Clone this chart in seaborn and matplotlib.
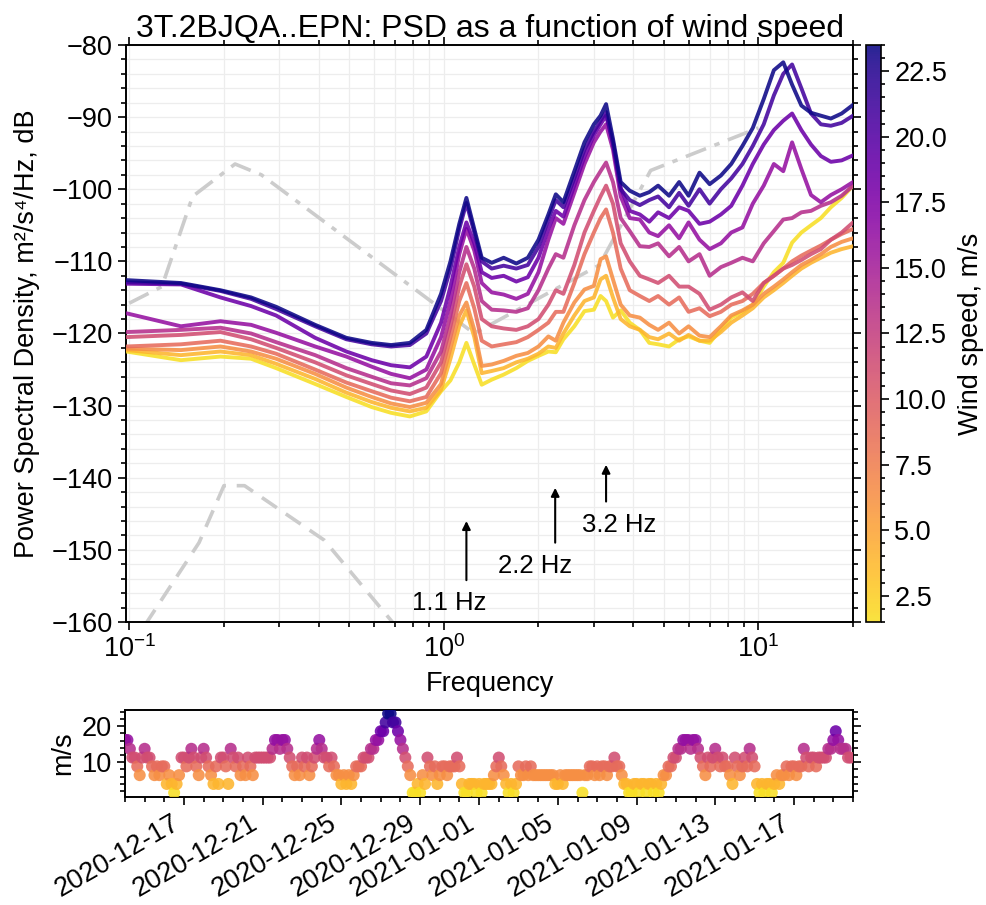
import numpy as np
import pandas as pd
import matplotlib
matplotlib.use("Agg")
import matplotlib.pyplot as plt
import matplotlib.dates as mdates
from matplotlib.ticker import MultipleLocator, LogLocator, NullFormatter
from matplotlib.colors import Normalize, ListedColormap
from matplotlib.cm import ScalarMappable
import seaborn as sns

# ---------------- data ----------------
FREQS = [0.098, 0.146, 0.195, 0.244, 0.293, 0.39, 0.49, 0.59, 0.68, 0.78,
         0.88, 0.98, 1.05, 1.12, 1.18, 1.25, 1.32, 1.42, 1.55, 1.70,
         1.85, 2.0, 2.15, 2.27, 2.40, 2.6, 2.8, 3.0, 3.15, 3.28,
         3.45, 3.65, 3.9, 4.2, 4.5, 4.8, 5.2, 5.6, 6.0, 6.5,
         7.0, 7.6, 8.2, 8.9, 9.6, 10.4, 11.2, 12.0, 12.8, 13.7,
         14.7, 15.8, 17.0, 18.4, 20.0]

WIND_LEVELS = [1.5, 3.94, 6.39, 8.83, 11.28, 13.72, 16.17, 18.61, 21.06, 23.5]

PSD_L0 = [-122.5, -123.7, -123.2, -123.5, -124.8, -127.0, -128.8, -130.2, -131.0, -131.5,
          -130.8, -128.0, -126.5, -124.0, -121.3, -124.3, -127.1, -126.4, -125.7, -124.8,
          -123.8, -123.1, -122.5, -122.6, -120.8, -119.0, -116.9, -116.7, -114.8, -115.5,
          -117.8, -116.8, -118.5, -119.5, -121.3, -121.5, -121.8, -120.8, -120.4, -121.0,
          -121.3, -119.4, -117.8, -117.0, -116.0, -113.5, -111.5, -110.2, -107.4, -106.0,
          -105.0, -104.0, -102.5, -101.2, -99.5]
PSD_L1 = [-122.3, -123.0, -122.5, -123.0, -124.2, -126.3, -128.2, -129.5, -130.3, -130.8,
          -130.3, -127.8, -123.5, -119.0, -116.8, -120.5, -125.5, -125.2, -124.8, -124.0,
          -123.5, -122.8, -121.8, -122.0, -120.0, -117.5, -115.5, -115.0, -112.5, -112.0,
          -115.0, -118.0, -119.0, -119.5, -120.5, -120.8, -120.0, -121.0, -120.2, -121.0,
          -121.0, -119.8, -118.5, -117.5, -116.5, -115.0, -114.0, -113.0, -112.0, -111.0,
          -110.2, -109.5, -108.8, -108.3, -107.9]
PSD_L2 = [-122.1, -122.3, -121.8, -122.5, -123.5, -125.6, -127.5, -128.8, -129.7, -130.2,
          -129.6, -127.0, -122.0, -117.5, -115.7, -119.5, -124.5, -124.3, -123.8, -123.1,
          -122.7, -121.8, -120.4, -121.0, -118.5, -115.7, -113.9, -113.4, -109.7, -109.3,
          -112.5, -116.0, -117.5, -117.8, -118.8, -119.5, -118.5, -120.0, -119.0, -120.3,
          -120.5, -119.0, -117.5, -116.8, -116.0, -114.5, -113.5, -112.5, -111.5, -110.5,
          -109.8, -109.0, -108.0, -107.3, -106.8]
PSD_L3 = [-121.8, -121.5, -121.0, -121.8, -122.8, -125.0, -126.8, -128.0, -128.9, -129.4,
          -128.8, -125.5, -120.5, -115.5, -113.0, -116.5, -121.0, -121.8, -121.5, -121.2,
          -120.5, -119.5, -118.5, -117.0, -117.0, -113.0, -109.0, -106.0, -104.0, -102.8,
          -106.0, -111.0, -114.0, -114.8, -115.5, -114.8, -116.0, -115.0, -117.0, -116.5,
          -117.6, -117.0, -116.0, -115.5, -114.5, -113.0, -112.0, -111.0, -110.0, -109.2,
          -108.5, -107.8, -107.0, -106.2, -105.5]
PSD_L4 = [-120.5, -120.2, -119.8, -120.8, -122.0, -124.0, -125.8, -127.0, -127.9, -128.4,
          -127.5, -124.0, -119.0, -113.5, -110.4, -113.5, -118.0, -119.0, -119.3, -119.5,
          -119.0, -118.0, -116.0, -114.0, -114.5, -110.5, -106.0, -103.0, -101.0, -99.5,
          -102.0, -107.5, -110.0, -112.0, -112.5, -113.0, -112.0, -113.5, -113.5, -114.5,
          -116.7, -116.0, -115.0, -114.3, -115.5, -113.0, -112.0, -111.0, -110.5, -109.8,
          -109.0, -108.3, -107.0, -106.0, -104.6]
PSD_L5 = [-119.8, -119.5, -119.2, -120.0, -121.2, -123.0, -124.8, -126.0, -126.9, -127.2,
          -126.2, -122.5, -117.5, -111.5, -108.0, -111.0, -115.5, -116.7, -116.8, -117.0,
          -116.5, -114.0, -111.0, -109.0, -109.5, -105.0, -101.5, -99.0, -97.5, -96.3,
          -99.0, -104.0, -105.8, -107.9, -108.0, -107.5, -109.3, -108.0, -110.0, -109.0,
          -112.0, -110.8, -110.2, -109.5, -110.0, -107.5, -105.8, -104.2, -104.0, -103.2,
          -103.0, -102.3, -101.8, -100.9, -99.5]
PSD_L6 = [-117.2, -119.0, -118.3, -118.8, -119.9, -121.8, -123.2, -124.6, -125.6, -126.2,
          -125.0, -120.5, -115.5, -109.0, -105.5, -108.5, -113.0, -114.3, -114.6, -115.2,
          -114.5, -111.5, -107.0, -104.0, -104.8, -100.5, -96.5, -93.5, -92.0, -91.0,
          -94.5, -101.0, -104.0, -104.2, -106.0, -106.5, -105.0, -106.8, -104.6, -107.0,
          -108.3, -107.5, -106.0, -105.3, -102.0, -99.5, -96.5, -97.5, -93.5, -97.2,
          -100.8, -101.8, -100.8, -100.0, -99.0]
PSD_L7 = [-113.1, -113.2, -115.0, -116.2, -117.5, -120.6, -122.5, -123.7, -124.4, -124.7,
          -123.2, -118.5, -113.5, -108.0, -104.6, -107.5, -111.5, -112.3, -112.0, -112.8,
          -112.2, -109.5, -105.5, -103.0, -103.8, -99.5, -95.5, -92.5, -91.0, -89.8,
          -93.5, -99.8, -103.0, -103.5, -104.5, -103.2, -104.0, -102.5, -103.0, -104.8,
          -104.5, -103.5, -102.3, -99.5, -96.5, -93.8, -91.8, -90.5, -89.5, -91.8,
          -93.8, -95.4, -96.2, -96.0, -95.3]
PSD_L8 = [-112.9, -113.1, -114.1, -115.2, -116.6, -119.0, -120.8, -121.5, -121.8, -121.6,
          -120.0, -115.5, -111.0, -105.5, -101.9, -106.0, -110.0, -111.0, -110.6, -111.0,
          -110.5, -108.0, -104.2, -101.5, -102.5, -98.5, -94.5, -92.0, -90.5, -89.3,
          -93.8, -100.0, -101.5, -102.2, -101.5, -101.0, -102.5, -100.5, -102.3, -100.0,
          -102.0, -100.0, -98.5, -96.5, -94.0, -91.0, -87.0, -84.0, -82.7, -86.0,
          -89.5, -91.0, -91.2, -90.8, -89.8]
PSD_L9 = [-112.6, -113.0, -114.0, -115.0, -116.3, -118.8, -120.6, -121.3, -121.6, -121.3,
          -119.5, -114.5, -110.0, -104.8, -101.2, -105.5, -109.5, -110.2, -109.5, -110.3,
          -109.5, -107.0, -103.5, -100.7, -101.8, -97.5, -93.5, -91.0, -89.8, -88.2,
          -93.0, -99.0, -100.2, -100.9, -100.4, -99.5, -100.9, -99.0, -100.9, -97.7,
          -99.3, -98.1, -96.5, -94.0, -91.5, -87.5, -83.5, -82.4, -85.5, -88.4,
          -89.4, -89.8, -90.2, -89.5, -88.3]
PSD_CURVES = [PSD_L0, PSD_L1, PSD_L2, PSD_L3, PSD_L4, PSD_L5, PSD_L6, PSD_L7, PSD_L8, PSD_L9]

# Peterson noise models (breakpoints, acceleration dB)
NHNM_F = [0.1, 0.127, 0.159, 0.217, 0.263, 1.25, 3.125, 4.545, 10.0]
NHNM_DB = [-115.8, -113.5, -101.0, -96.5, -98.0, -120.0, -110.5, -97.4, -91.5]
NLNM_F = [0.1, 0.1667, 0.2, 0.2326, 0.4167, 0.806, 1.25]
NLNM_DB = [-163.75, -149.0, -141.1, -141.1, -148.65, -163.66, -169.2]

# wind speed bin index, 3-hourly samples from 2020-12-14 (8 per day)
WIND_BIN = [
    6, 6, 5, 4, 4, 3, 2, 4,   5, 4, 4, 3, 2, 3, 2, 3,   3, 1, 2, 1, 0, 1, 2, 4,
    4, 3, 4, 5, 4, 3, 2, 4,   5, 4, 3, 2, 1, 3, 1, 4,   4, 3, 1, 5, 4, 3, 4, 2,
    3, 2, 4, 3, 2, 4, 4, 4,   4, 4, 4, 4, 5, 6, 6, 5,   6, 6, 5, 4, 3, 2, 3, 2,
    4, 3, 4, 2, 3, 4, 5, 6,   5, 4, 4, 3, 4, 3, 2, 2,   1, 2, 1, 2, 1, 2, 3, 3,
    3, 4, 4, 4, 5, 5, 6, 6,   7, 7, 8, 9, 9, 8, 8, 7,   6, 5, 4, 3, 2, 0, 0, 1,
    0, 2, 1, 4, 3, 2, 3, 1,   2, 3, 3, 2, 3, 3, 3, 4,   3, 1, 0, 0, 1, 1, 1, 0,
    1, 0, 1, 1, 1, 1, 2, 3,   4, 3, 2, 1, 0, 1, 0, 1,   3, 2, 2, 3, 2, 3, 2, 2,
    2, 2, 2, 2, 2, 2, 2, 1,   1, 2, 1, 2, 2, 2, 2, 2,   2, 2, 0, 2, 2, 3, 3, 2,
    3, 2, 3, 3, 2, 3, 3, 4,   3, 3, 2, 1, 1, 0, 0, 1,   1, 0, 1, 1, 0, 1, 1, 0,
    1, 0, 1, 2, 2, 3, 3, 4,   4, 5, 5, 6, 6, 6, 5, 6,   6, 5, 4, 3, 2, 4, 3, 4,
    5, 4, 3, 4, 3, 3, 2, 1,   4, 3, 2, 3, 4, 3, 5, 4,   3, 1, 0, 1, 0, 1, 1, 0,
    1, 2, 1, 2, 2, 3, 2, 3,   3, 2, 3, 3, 5, 4, 3, 4,   4, 3, 4, 4, 4, 4, 5, 5,
    6, 7, 6, 5, 5, 5, 4, 4,
]
START = "2020-12-14 00:00"
END = "2021-01-20 00:00"

ARROW_F = [1.18, 2.26, 3.28]
ARROW_LABELS = ["1.1 Hz", "2.2 Hz", "3.2 Hz"]

# ---------------- style ----------------
sns.set_theme(style="ticks")
FONT = ["Liberation Sans", "DejaVu Sans"]
plt.rcParams["font.family"] = FONT
plt.rcParams["mathtext.default"] = "regular"
plt.rcParams["axes.linewidth"] = 1.4
for k in ["text.color", "axes.labelcolor", "xtick.color", "ytick.color", "axes.edgecolor"]:
    plt.rcParams[k] = "black"

base = plt.get_cmap("plasma")
cmap = ListedColormap(base(np.linspace(0.94, 0.0, 256)))
norm = Normalize(vmin=1.5, vmax=23.5)
ALPHA = 0.88

fig = plt.figure(figsize=(9.87, 9.05), dpi=100)
ax = fig.add_axes([0.1277, 0.3127, 0.7366, 0.6376])
cax = fig.add_axes([0.8774, 0.3127, 0.0152, 0.6376])
ax2 = fig.add_axes([0.1266, 0.1193, 0.7376, 0.0961])

# ---------------- PSD curves ----------------
rows = []
for w, vals in zip(WIND_LEVELS, PSD_CURVES):
    for f, v in zip(FREQS, vals):
        rows.append((f, v, w))
psd = pd.DataFrame(rows, columns=["freq", "psd", "wind"])

ax.plot(NHNM_F, NHNM_DB, color="#cccccc", lw=2.6, ls=(0, (6, 2.5, 1.5, 2.5)), zorder=2)
ax.plot(NLNM_F, NLNM_DB, color="#cccccc", lw=2.6, ls=(0, (5, 3)), zorder=2)

sns.lineplot(data=psd, x="freq", y="psd", hue="wind", palette=cmap, hue_norm=norm,
             legend=False, errorbar=None, sort=True, lw=2.8, alpha=ALPHA, ax=ax, zorder=3)

ax.set_xscale("log")
ax.set_xlim(0.0977, 20)
ax.set_ylim(-160, -80)
ax.yaxis.set_major_locator(MultipleLocator(10))
ax.yaxis.set_minor_locator(MultipleLocator(2))
ax.xaxis.set_major_locator(LogLocator(base=10))
ax.xaxis.set_minor_locator(LogLocator(base=10, subs=np.arange(2, 10)))
ax.xaxis.set_minor_formatter(NullFormatter())
ax.grid(True, which="both", color="#ededed", lw=0.9)
ax.set_axisbelow(True)
ax.tick_params(which="both", direction="out", top=True, right=True, labelsize=19.5,
               color="black", width=1.2)
ax.tick_params(which="major", length=6)
ax.tick_params(which="minor", length=3.5)
ax.set_xlabel("Frequency", fontsize=19.5, labelpad=6)
ax.set_ylabel("Power Spectral Density, m²/s⁴/Hz, dB", fontsize=19.5, labelpad=8)
ax.set_title("3T.2BJQA..EPN: PSD as a function of wind speed", fontsize=23, pad=6)

# annotations
ARROW_TIP = [-146.0, -141.4, -138.2]
ARROW_TAIL = [-154.2, -149.0, -143.3]
TEXT_POS = [(1.04, -157.4), (1.95, -152.2), (3.61, -146.5)]
for f, tip, tail, (tx, ty), lab in zip(ARROW_F, ARROW_TIP, ARROW_TAIL, TEXT_POS, ARROW_LABELS):
    ax.annotate("", xy=(f, tip), xytext=(f, tail),
                arrowprops=dict(arrowstyle="-|>", color="black", lw=1.5,
                                mutation_scale=12, shrinkA=0, shrinkB=0))
    ax.text(tx, ty, lab, ha="center", va="center", fontsize=18.5)

# colorbar
cb = fig.colorbar(ScalarMappable(norm=norm, cmap=cmap), cax=cax, alpha=ALPHA)
cb.outline.set_linewidth(1.2)
cb.ax.yaxis.set_major_locator(MultipleLocator(2.5))
cb.ax.yaxis.set_minor_locator(MultipleLocator(0.5))
cb.ax.tick_params(which="both", direction="out", labelsize=19.5, width=1.2)
cb.ax.tick_params(which="major", length=6)
cb.ax.tick_params(which="minor", length=3)
cb.set_label("Wind speed, m/s", fontsize=19.5, labelpad=8)

# ---------------- wind time series ----------------
times = pd.date_range(START, periods=len(WIND_BIN), freq="3h")
speeds = [WIND_LEVELS[i] for i in WIND_BIN]
ts = pd.DataFrame({"time": times, "speed": speeds})
sns.scatterplot(data=ts, x="time", y="speed", hue="speed", palette=cmap, hue_norm=norm,
                legend=False, s=75, linewidth=0, alpha=ALPHA, ax=ax2, zorder=3)
ax2.set_xlim(pd.Timestamp(START), pd.Timestamp(END))
ax2.set_ylim(0.3, 24.5)
ax2.yaxis.set_major_locator(MultipleLocator(10))
ax2.yaxis.set_minor_locator(MultipleLocator(2))
ax2.xaxis.set_major_locator(mdates.DayLocator(bymonthday=range(1, 32, 4)))
ax2.xaxis.set_minor_locator(mdates.DayLocator())
ax2.xaxis.set_major_formatter(mdates.DateFormatter("%Y-%m-%d"))
ax2.tick_params(which="both", direction="out", right=True, labelsize=19.5, width=1.2)
ax2.tick_params(which="major", length=6)
ax2.tick_params(which="minor", length=3.5)
for lbl in ax2.get_xticklabels():
    lbl.set_rotation(30)
    lbl.set_ha("right")
ax2.set_xlabel("")
ax2.set_ylabel("m/s", fontsize=19.5)

fig.savefig("out.png", dpi=100)
